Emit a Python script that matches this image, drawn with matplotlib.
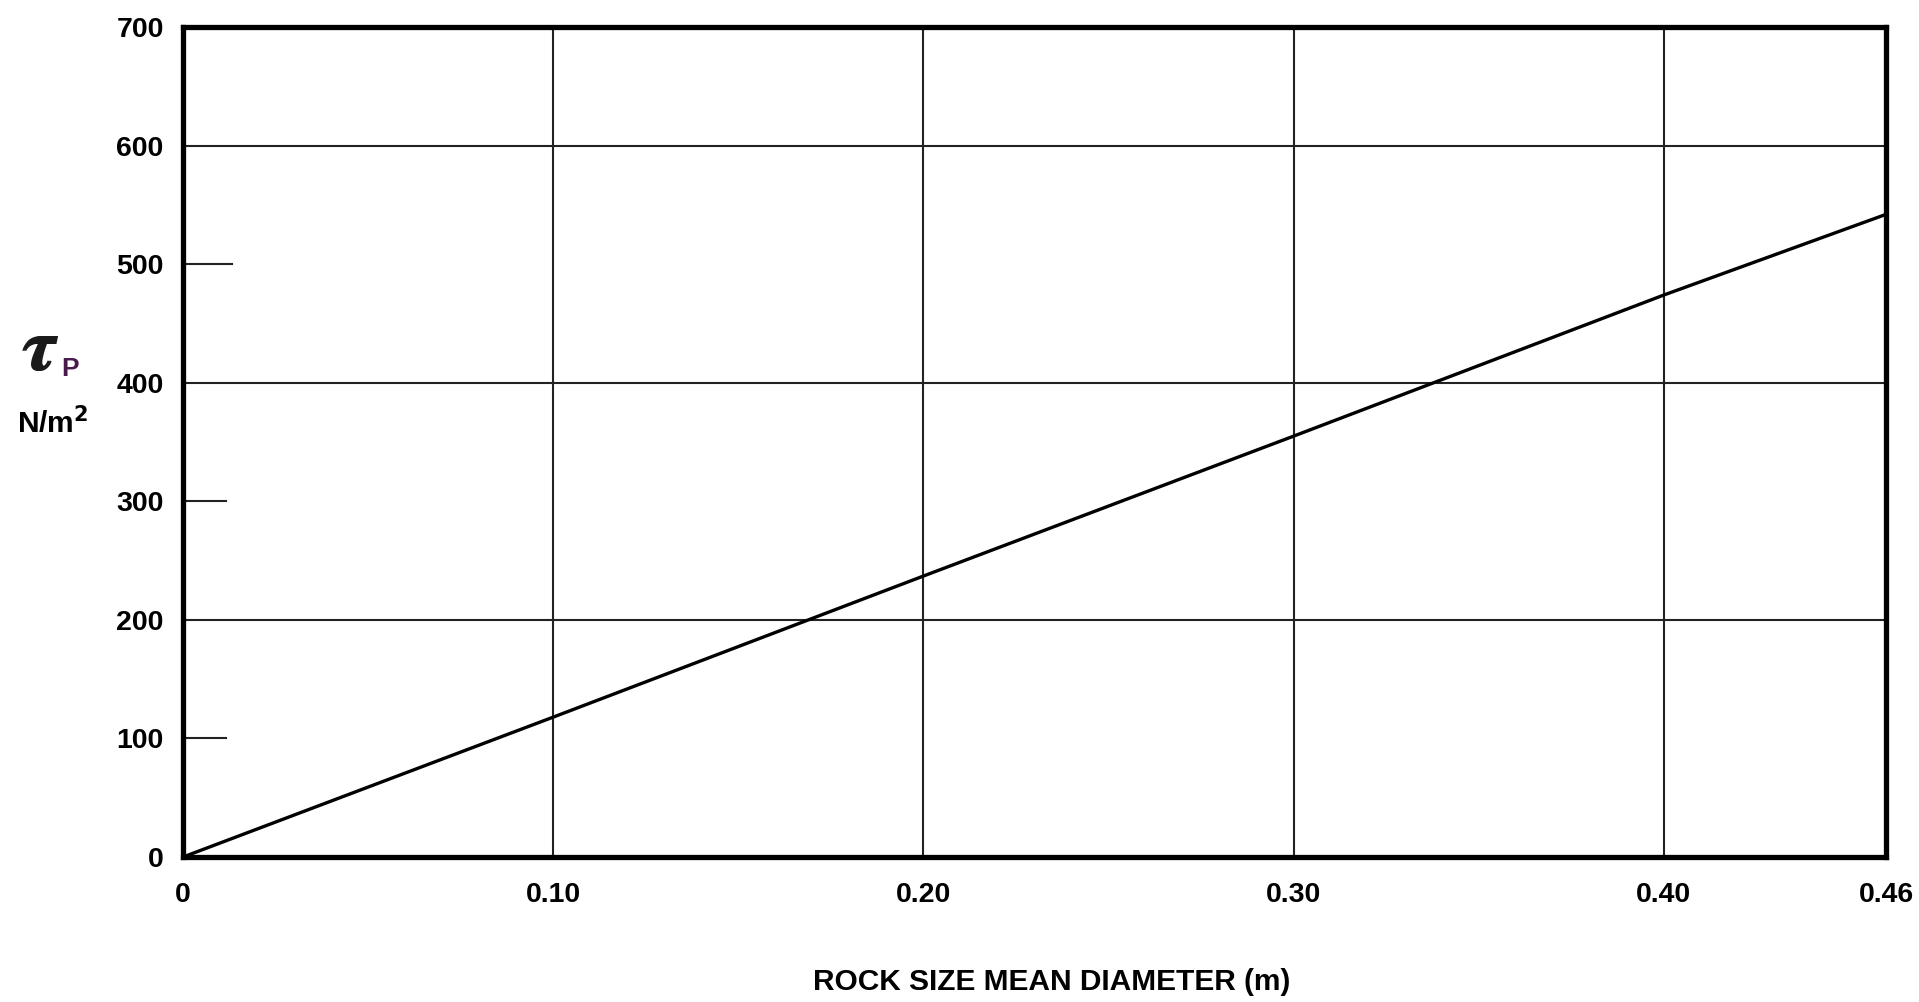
import matplotlib.pyplot as plt

plt.rcParams["font.family"] = ["Liberation Sans", "DejaVu Sans"]
plt.rcParams["font.weight"] = "bold"

# Data
diameter = [0.0, 0.10, 0.20, 0.30, 0.40, 0.46]
shear = [0, 118, 237, 355, 474, 542]

x_ticks = [0, 0.10, 0.20, 0.30, 0.40, 0.46]
x_ticklabels = ["0", "0.10", "0.20", "0.30", "0.40", "0.46"]
x_grid = [0.10, 0.20, 0.30, 0.40]
y_ticks = [0, 100, 200, 300, 400, 500, 600, 700]
y_grid = [200, 400, 600]
y_short = [100, 300, 500]

fig = plt.figure(figsize=(19.19, 10.02), dpi=100)
ax = fig.add_axes([0.0954, 0.1447, 0.8874, 0.8283])

for xv in x_grid:
    ax.axvline(xv, color="#222222", lw=1.5, zorder=1)
for yv in y_grid:
    ax.axhline(yv, color="#222222", lw=1.5, zorder=1)
for yv, ln in zip(y_short, [0.025, 0.025, 0.029]):
    ax.axhline(yv, xmin=0, xmax=ln, color="#222222", lw=1.5, zorder=1)

ax.plot(diameter, shear, color="black", lw=2.4, zorder=3)

ax.set_xlim(0, 0.46)
ax.set_ylim(0, 700)
ax.set_xticks(x_ticks)
ax.set_xticklabels(x_ticklabels)
ax.set_yticks(y_ticks)
ax.tick_params(axis="x", length=0, labelsize=20.5, pad=18)
ax.tick_params(axis="y", length=0, labelsize=20.5, pad=14)
for lab in ax.get_xticklabels() + ax.get_yticklabels():
    lab.set_fontweight("bold")
for sp in ax.spines.values():
    sp.set_linewidth(3.8)
    sp.set_zorder(4)

fig.text(0.548, 0.02, "ROCK SIZE MEAN DIAMETER (m)", ha="center", va="center",
         fontsize=21.5, fontweight="bold")
# italic tau drawn twice with a tiny offset to make it look heavier
for dx in (0.0, 0.0008):
    fig.text(0.0205 + dx, 0.650, r"$\tau$", ha="center", va="center", fontsize=54,
             color="#1a1a1a", math_fontfamily="stix")
fig.text(0.0365, 0.632, "P", ha="center", va="center", fontsize=19,
         fontweight="bold", color="#4a1a4a")
fig.text(0.0275, 0.578, "N/m$^\\mathbf{2}$", ha="center", va="center",
         fontsize=21.5, fontweight="bold")

fig.savefig("out.png", dpi=100)
